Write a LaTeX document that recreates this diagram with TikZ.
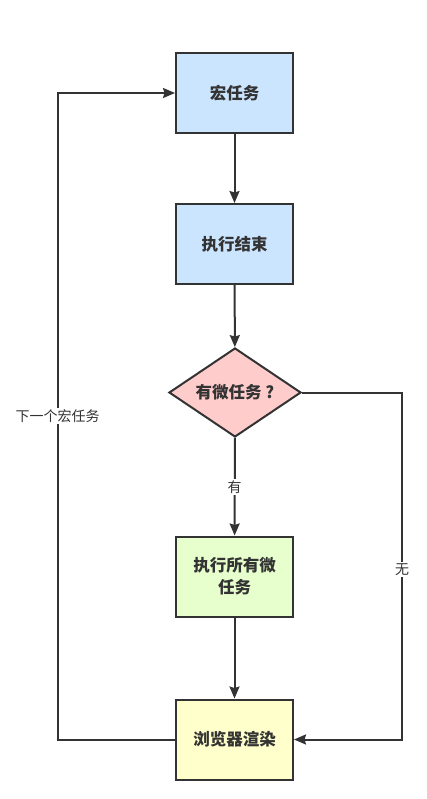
\documentclass[tikz,border=0pt]{standalone}
\usepackage{fontspec}
\newfontfamily\cjk{Noto Sans CJK SC}
\usetikzlibrary{arrows.meta,shapes.geometric}
\definecolor{lc}{HTML}{333333}
\definecolor{fblue}{HTML}{CCE5FF}
\definecolor{fpink}{HTML}{FFCCCC}
\definecolor{fgreen}{HTML}{E6FFCC}
\definecolor{fyellow}{HTML}{FFFFCC}
\begin{document}
\begin{tikzpicture}[x=1pt,y=-1pt,
  box/.style={draw=lc,line width=2pt,minimum width=117pt,minimum height=80pt,inner sep=0pt,
    font=\cjk\bfseries\fontsize{16.5}{22}\selectfont,text=lc,align=center},
  dia/.style={draw=lc,line width=2pt,diamond,aspect=1.48,minimum width=132pt,minimum height=89pt,inner sep=0pt,
    font=\cjk\bfseries\fontsize{16.5}{22}\selectfont,text=lc},
  conn/.style={draw=lc,line width=2pt,-{Stealth[length=12pt,width=10pt,inset=1.5pt]}},
  lbl/.style={fill=white,font=\cjk\fontsize{14}{16}\selectfont,text=lc,inner sep=1.5pt}]
\useasboundingbox (0,0) rectangle (427,799);
\fill[white] (0,0) rectangle (427,799);
\node[box,fill=fblue] (a) at (234.5,93) {宏任务};
\node[box,fill=fblue] (b) at (234.5,244) {执行结束};
\node[dia,fill=fpink] (c) at (235,392.5) {有微任务 ?};
\node[box,fill=fgreen] (d) at (234.5,576.5) {执行所有微\\任务};
\node[box,fill=fyellow] (e) at (234.5,739.5) {浏览器渲染};
\coordinate (rr) at (402,392.5);
\coordinate (rb) at (402,739.5);
\coordinate (lb) at (57.5,739.5);
\coordinate (lt) at (57.5,93);
\draw[conn] (a) -- (b);
\draw[conn] (b) -- (c);
\draw[conn] (c) -- node[lbl]{有} (d);
\draw[conn] (d) -- (e);
\draw[conn] (c.east) -- (rr) -- node[lbl,pos=0.51]{无} (rb) -- (e.east);
\draw[conn] (e.west) -- (lb) -- node[lbl,pos=0.5]{下一个宏任务} (lt) -- (a.west);
\end{tikzpicture}
\end{document}
